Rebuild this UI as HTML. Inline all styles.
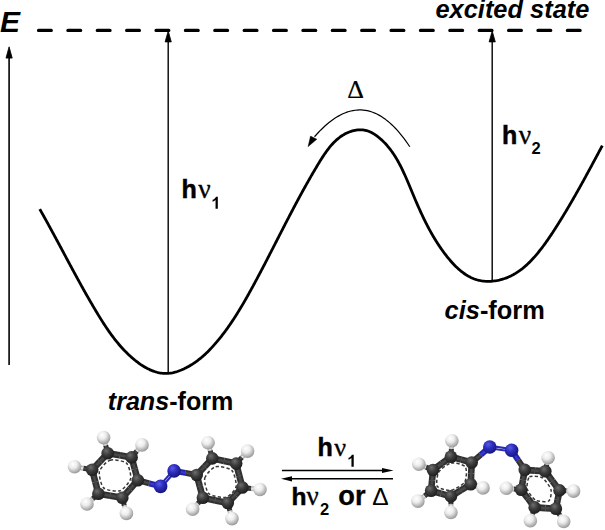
<!DOCTYPE html>
<html><head><meta charset="utf-8"><style>
html,body{margin:0;padding:0;background:#fff;}
svg{display:block;}
text{font-family:"Liberation Sans",sans-serif;}
</style></head><body>
<svg width="605" height="530" viewBox="0 0 605 530">
<defs>
<radialGradient id="gC" cx="0.4" cy="0.35" r="0.65" fx="0.38" fy="0.3"><stop offset="0" stop-color="#6e6e6e"/><stop offset="0.5" stop-color="#3c3c3c"/><stop offset="1" stop-color="#1e1e1e"/></radialGradient>
<radialGradient id="gH" cx="0.4" cy="0.35" r="0.65" fx="0.38" fy="0.3"><stop offset="0" stop-color="#ffffff"/><stop offset="0.45" stop-color="#ececec"/><stop offset="1" stop-color="#9a9a9a"/></radialGradient>
<radialGradient id="gN" cx="0.4" cy="0.35" r="0.65" fx="0.38" fy="0.3"><stop offset="0" stop-color="#5a5ae6"/><stop offset="0.5" stop-color="#2c2cbc"/><stop offset="1" stop-color="#16167c"/></radialGradient>
</defs>
<!-- dashed excited state line -->
<line x1="38.5" y1="30.4" x2="590" y2="30.4" stroke="#000" stroke-width="3.2" stroke-linecap="round" stroke-dasharray="12.8 16.58"/>
<!-- E axis arrow -->
<line x1="9.1" y1="57" x2="9.1" y2="365" stroke="#111" stroke-width="1.7"/>
<path d="M9.1 46.8 L12.2 58.1 L6.0 58.1 Z" fill="#000" stroke="#000" stroke-width="0.8" stroke-linejoin="round"/>
<!-- vertical arrows -->
<line x1="168.2" y1="41" x2="168.2" y2="372.5" stroke="#000" stroke-width="1.4"/>
<path d="M168.2 31 L171.3 41.9 L165.1 41.9 Z" fill="#000" stroke="#000" stroke-width="0.8" stroke-linejoin="round"/>
<line x1="492.2" y1="41" x2="492.2" y2="280" stroke="#000" stroke-width="1.4"/>
<path d="M492.2 31 L495.3 41.9 L489.1 41.9 Z" fill="#000" stroke="#000" stroke-width="0.8" stroke-linejoin="round"/>
<!-- energy curve -->
<path d="M39.75 209.12 L40.41 210.27 L41.06 211.42 L41.71 212.58 L42.36 213.73 L43.01 214.89 L43.66 216.05 L44.31 217.20 L44.95 218.36 L45.59 219.52 L46.24 220.68 L46.88 221.84 L47.52 223.00 L48.16 224.17 L48.80 225.33 L49.43 226.49 L50.07 227.66 L50.70 228.82 L51.34 229.98 L51.97 231.15 L52.60 232.32 L53.24 233.48 L53.87 234.65 L54.50 235.82 L55.13 236.99 L55.76 238.15 L56.39 239.32 L57.01 240.49 L57.64 241.66 L58.27 242.83 L58.90 244.00 L59.52 245.17 L60.15 246.34 L60.78 247.51 L61.40 248.68 L62.03 249.85 L62.65 251.02 L63.28 252.20 L63.90 253.37 L64.53 254.54 L65.16 255.71 L65.78 256.88 L66.41 258.05 L67.04 259.22 L67.66 260.39 L68.29 261.56 L68.92 262.73 L69.54 263.90 L70.17 265.07 L70.80 266.24 L71.43 267.41 L72.06 268.58 L72.69 269.75 L73.32 270.92 L73.95 272.09 L74.59 273.26 L75.22 274.43 L75.86 275.59 L76.49 276.76 L77.13 277.93 L77.76 279.09 L78.40 280.26 L79.04 281.42 L79.68 282.59 L80.32 283.75 L80.97 284.91 L81.61 286.08 L82.26 287.24 L82.90 288.40 L83.55 289.56 L84.20 290.72 L84.85 291.88 L85.50 293.03 L86.16 294.19 L86.81 295.35 L87.47 296.50 L88.13 297.66 L88.79 298.81 L89.45 299.96 L90.12 301.11 L90.78 302.26 L91.45 303.41 L92.12 304.56 L92.79 305.71 L93.47 306.86 L94.14 308.00 L94.82 309.14 L95.50 310.29 L96.18 311.43 L96.87 312.57 L97.56 313.71 L98.25 314.85 L98.94 315.98 L99.64 317.12 L100.34 318.25 L101.04 319.38 L101.75 320.50 L102.46 321.63 L103.17 322.75 L103.89 323.87 L104.62 324.98 L105.35 326.09 L106.08 327.20 L106.82 328.30 L107.57 329.40 L108.32 330.50 L109.08 331.59 L109.85 332.67 L110.62 333.75 L111.40 334.83 L112.19 335.89 L112.99 336.96 L113.79 338.02 L114.60 339.07 L115.42 340.11 L116.25 341.15 L117.09 342.19 L117.93 343.21 L118.79 344.23 L119.65 345.24 L120.53 346.24 L121.41 347.24 L122.31 348.23 L123.22 349.21 L124.13 350.18 L125.06 351.14 L126.00 352.10 L126.95 353.04 L127.92 353.98 L128.89 354.90 L129.88 355.82 L130.88 356.73 L131.89 357.62 L132.92 358.51 L133.96 359.38 L135.01 360.25 L136.08 361.09 L137.15 361.92 L138.24 362.74 L139.34 363.53 L140.45 364.31 L141.57 365.06 L142.70 365.79 L143.84 366.49 L144.99 367.17 L146.15 367.83 L147.32 368.45 L148.50 369.04 L149.69 369.61 L150.89 370.14 L152.09 370.63 L153.31 371.09 L154.53 371.52 L155.76 371.90 L156.99 372.25 L158.23 372.55 L159.48 372.82 L160.74 373.04 L162.00 373.21 L163.26 373.34 L164.54 373.42 L165.81 373.45 L167.09 373.42 L168.38 373.35 L169.67 373.22 L170.96 373.05 L172.26 372.82 L173.55 372.55 L174.85 372.23 L176.14 371.87 L177.43 371.47 L178.71 371.03 L179.99 370.56 L181.26 370.05 L182.52 369.51 L183.77 368.95 L185.01 368.35 L186.23 367.73 L187.44 367.09 L188.64 366.43 L189.82 365.75 L190.98 365.05 L192.13 364.34 L193.26 363.61 L194.37 362.86 L195.47 362.10 L196.55 361.32 L197.62 360.53 L198.68 359.72 L199.72 358.90 L200.75 358.07 L201.76 357.22 L202.77 356.36 L203.76 355.49 L204.74 354.60 L205.70 353.70 L206.66 352.80 L207.60 351.88 L208.54 350.95 L209.46 350.01 L210.38 349.06 L211.29 348.10 L212.18 347.14 L213.07 346.16 L213.96 345.18 L214.83 344.19 L215.70 343.19 L216.55 342.19 L217.41 341.18 L218.25 340.16 L219.09 339.14 L219.93 338.11 L220.75 337.07 L221.57 336.03 L222.39 334.98 L223.19 333.93 L224.00 332.87 L224.79 331.81 L225.58 330.74 L226.37 329.66 L227.14 328.58 L227.92 327.50 L228.69 326.41 L229.45 325.32 L230.20 324.22 L230.96 323.12 L231.70 322.01 L232.45 320.90 L233.18 319.78 L233.91 318.66 L234.64 317.54 L235.37 316.42 L236.08 315.29 L236.80 314.15 L237.51 313.02 L238.21 311.88 L238.92 310.74 L239.61 309.59 L240.31 308.45 L241.00 307.30 L241.68 306.14 L242.37 304.99 L243.04 303.83 L243.72 302.67 L244.39 301.51 L245.06 300.35 L245.73 299.19 L246.39 298.02 L247.05 296.86 L247.71 295.69 L248.36 294.52 L249.02 293.35 L249.67 292.18 L250.31 291.01 L250.96 289.84 L251.60 288.67 L252.24 287.50 L252.88 286.32 L253.52 285.15 L254.15 283.98 L254.78 282.81 L255.41 281.63 L256.04 280.46 L256.67 279.29 L257.30 278.12 L257.92 276.94 L258.54 275.77 L259.16 274.60 L259.78 273.43 L260.40 272.26 L261.02 271.08 L261.63 269.91 L262.25 268.74 L262.86 267.57 L263.47 266.39 L264.09 265.22 L264.70 264.05 L265.31 262.87 L265.91 261.70 L266.52 260.53 L267.13 259.36 L267.73 258.18 L268.34 257.01 L268.94 255.84 L269.55 254.67 L270.15 253.49 L270.75 252.32 L271.35 251.15 L271.95 249.97 L272.56 248.80 L273.16 247.63 L273.76 246.45 L274.36 245.28 L274.96 244.11 L275.56 242.93 L276.16 241.76 L276.76 240.59 L277.36 239.41 L277.96 238.24 L278.56 237.07 L279.16 235.89 L279.76 234.72 L280.36 233.54 L280.96 232.37 L281.57 231.20 L282.17 230.02 L282.77 228.85 L283.37 227.67 L283.98 226.50 L284.58 225.32 L285.19 224.15 L285.79 222.98 L286.40 221.80 L287.01 220.63 L287.62 219.45 L288.23 218.28 L288.84 217.10 L289.45 215.93 L290.06 214.75 L290.68 213.58 L291.29 212.40 L291.91 211.23 L292.53 210.05 L293.15 208.87 L293.77 207.70 L294.39 206.52 L295.01 205.35 L295.64 204.17 L296.26 203.00 L296.89 201.82 L297.52 200.64 L298.15 199.47 L298.79 198.29 L299.42 197.11 L300.06 195.94 L300.70 194.76 L301.34 193.58 L301.99 192.41 L302.63 191.23 L303.28 190.05 L303.93 188.88 L304.58 187.70 L305.24 186.52 L305.89 185.34 L306.55 184.17 L307.22 182.99 L307.88 181.81 L308.55 180.63 L309.22 179.45 L309.89 178.28 L310.57 177.10 L311.24 175.92 L311.92 174.74 L312.61 173.56 L313.30 172.38 L313.99 171.20 L314.68 170.03 L315.37 168.85 L316.07 167.67 L316.78 166.49 L317.48 165.31 L318.19 164.13 L318.90 162.95 L319.62 161.78 L320.34 160.60 L321.07 159.44 L321.81 158.27 L322.55 157.12 L323.30 155.97 L324.06 154.84 L324.83 153.71 L325.61 152.59 L326.39 151.49 L327.19 150.40 L328.00 149.33 L328.82 148.27 L329.65 147.23 L330.50 146.21 L331.36 145.21 L332.24 144.22 L333.13 143.26 L334.03 142.32 L334.95 141.41 L335.89 140.52 L336.85 139.66 L337.82 138.82 L338.81 138.02 L339.83 137.24 L340.86 136.49 L341.91 135.78 L342.98 135.09 L344.08 134.45 L345.19 133.83 L346.33 133.26 L347.49 132.72 L348.68 132.22 L349.89 131.76 L351.13 131.34 L352.39 130.96 L353.66 130.63 L354.96 130.36 L356.26 130.13 L357.57 129.96 L358.88 129.85 L360.20 129.81 L361.51 129.83 L362.81 129.92 L364.11 130.08 L365.38 130.32 L366.64 130.64 L367.89 131.02 L369.11 131.48 L370.32 131.99 L371.51 132.57 L372.68 133.20 L373.83 133.87 L374.96 134.59 L376.07 135.36 L377.16 136.15 L378.22 136.98 L379.27 137.83 L380.30 138.70 L381.30 139.59 L382.28 140.50 L383.25 141.43 L384.19 142.37 L385.11 143.33 L386.01 144.31 L386.90 145.30 L387.76 146.30 L388.61 147.32 L389.44 148.36 L390.26 149.40 L391.05 150.47 L391.84 151.54 L392.60 152.63 L393.35 153.72 L394.09 154.83 L394.81 155.95 L395.52 157.09 L396.21 158.23 L396.90 159.38 L397.57 160.54 L398.23 161.71 L398.87 162.89 L399.51 164.07 L400.14 165.27 L400.75 166.47 L401.36 167.67 L401.96 168.89 L402.55 170.10 L403.13 171.33 L403.70 172.56 L404.27 173.79 L404.83 175.03 L405.39 176.27 L405.94 177.51 L406.48 178.76 L407.02 180.01 L407.55 181.26 L408.08 182.51 L408.61 183.76 L409.14 185.02 L409.66 186.27 L410.18 187.52 L410.70 188.78 L411.22 190.03 L411.74 191.28 L412.26 192.52 L412.78 193.77 L413.30 195.01 L413.82 196.25 L414.34 197.48 L414.86 198.72 L415.39 199.95 L415.91 201.18 L416.44 202.40 L416.97 203.63 L417.50 204.85 L418.04 206.06 L418.57 207.28 L419.11 208.49 L419.66 209.70 L420.20 210.91 L420.75 212.11 L421.31 213.31 L421.86 214.51 L422.43 215.70 L422.99 216.89 L423.56 218.08 L424.14 219.27 L424.71 220.45 L425.30 221.63 L425.89 222.81 L426.48 223.98 L427.08 225.15 L427.69 226.32 L428.30 227.48 L428.92 228.64 L429.55 229.80 L430.18 230.95 L430.82 232.10 L431.46 233.25 L432.11 234.39 L432.77 235.53 L433.44 236.67 L434.12 237.80 L434.80 238.94 L435.49 240.06 L436.19 241.19 L436.90 242.31 L437.62 243.42 L438.34 244.54 L439.08 245.65 L439.82 246.75 L440.58 247.86 L441.34 248.95 L442.11 250.05 L442.90 251.14 L443.69 252.23 L444.50 253.31 L445.31 254.40 L446.14 255.47 L446.98 256.54 L447.83 257.61 L448.69 258.66 L449.56 259.71 L450.44 260.75 L451.34 261.77 L452.24 262.78 L453.16 263.78 L454.09 264.76 L455.04 265.73 L456.00 266.68 L456.97 267.61 L457.95 268.52 L458.95 269.41 L459.95 270.27 L460.98 271.12 L462.01 271.94 L463.07 272.73 L464.13 273.49 L465.21 274.23 L466.30 274.94 L467.41 275.61 L468.53 276.26 L469.67 276.87 L470.82 277.45 L471.99 277.99 L473.17 278.49 L474.37 278.96 L475.58 279.38 L476.81 279.77 L478.06 280.12 L479.32 280.42 L480.60 280.68 L481.89 280.89 L483.19 281.07 L484.51 281.20 L485.84 281.28 L487.18 281.33 L488.52 281.34 L489.87 281.31 L491.22 281.24 L492.57 281.13 L493.93 280.98 L495.28 280.80 L496.63 280.58 L497.98 280.32 L499.32 280.03 L500.65 279.71 L501.97 279.35 L503.29 278.96 L504.59 278.54 L505.87 278.08 L507.15 277.60 L508.40 277.08 L509.64 276.53 L510.86 275.96 L512.06 275.36 L513.24 274.73 L514.40 274.07 L515.55 273.39 L516.68 272.68 L517.80 271.95 L518.90 271.20 L519.98 270.43 L521.05 269.63 L522.10 268.82 L523.14 267.98 L524.16 267.13 L525.17 266.26 L526.17 265.38 L527.15 264.48 L528.12 263.56 L529.08 262.63 L530.02 261.69 L530.95 260.74 L531.87 259.78 L532.78 258.80 L533.68 257.82 L534.56 256.82 L535.44 255.83 L536.31 254.82 L537.16 253.81 L538.01 252.78 L538.85 251.76 L539.67 250.72 L540.50 249.68 L541.31 248.64 L542.11 247.59 L542.91 246.53 L543.70 245.47 L544.48 244.40 L545.26 243.33 L546.03 242.25 L546.79 241.17 L547.55 240.09 L548.30 239.00 L549.05 237.91 L549.79 236.81 L550.53 235.71 L551.27 234.61 L552.00 233.50 L552.73 232.40 L553.45 231.29 L554.18 230.17 L554.90 229.06 L555.62 227.94 L556.33 226.82 L557.05 225.70 L557.76 224.58 L558.47 223.45 L559.17 222.33 L559.88 221.20 L560.58 220.07 L561.28 218.94 L561.97 217.80 L562.67 216.67 L563.36 215.53 L564.05 214.39 L564.74 213.25 L565.43 212.11 L566.12 210.97 L566.80 209.82 L567.48 208.68 L568.16 207.53 L568.84 206.38 L569.51 205.23 L570.19 204.08 L570.86 202.92 L571.53 201.77 L572.20 200.61 L572.87 199.46 L573.53 198.30 L574.20 197.14 L574.86 195.98 L575.52 194.82 L576.18 193.66 L576.84 192.49 L577.49 191.33 L578.15 190.16 L578.80 189.00 L579.45 187.83 L580.11 186.66 L580.76 185.50 L581.40 184.33 L582.05 183.16 L582.70 181.99 L583.34 180.82 L583.99 179.64 L584.63 178.47 L585.27 177.30 L585.91 176.13 L586.55 174.95 L587.19 173.78 L587.83 172.61 L588.47 171.43 L589.10 170.26 L589.74 169.08 L590.37 167.91 L591.01 166.73 L591.64 165.56 L592.28 164.38 L592.91 163.21 L593.54 162.03 L594.17 160.85 L594.80 159.68 L595.43 158.50 L596.06 157.33 L596.69 156.15 L597.32 154.98 L597.94 153.80 L598.57 152.63 L599.20 151.45 L599.83 150.28 L600.45 149.11 L601.08 147.93 L601.71 146.76 L602.33 145.59" fill="none" stroke="#000" stroke-width="2.8" stroke-linecap="butt" stroke-linejoin="round"/>
<!-- thermal arc arrow -->
<path d="M409.80 146.77 L407.77 143.76 L405.74 140.88 L403.72 138.14 L401.69 135.53 L399.66 133.06 L397.63 130.71 L395.61 128.50 L393.58 126.41 L391.55 124.45 L389.52 122.62 L387.50 120.92 L385.47 119.35 L383.44 117.90 L381.41 116.57 L379.39 115.37 L377.36 114.29 L375.33 113.33 L373.30 112.49 L371.27 111.77 L369.25 111.17 L367.22 110.69 L365.19 110.33 L363.16 110.08 L361.14 109.95 L359.11 109.93 L357.08 110.03 L355.05 110.23 L353.03 110.56 L351.00 110.99 L348.97 111.53 L346.94 112.18 L344.91 112.94 L342.89 113.81 L340.86 114.78 L338.83 115.86 L336.80 117.05 L334.78 118.34 L332.75 119.73 L330.72 121.23 L328.69 122.82 L326.67 124.52 L324.64 126.31 L322.61 128.21 L320.58 130.20 L318.56 132.29 L316.53 134.48 L314.50 136.76" fill="none" stroke="#000" stroke-width="1.2" stroke-linejoin="round"/>
<path d="M308.0 146.7 L310.5 136.1 L316.9 139.2 Z" fill="#000" stroke="#000" stroke-width="0.4" stroke-linejoin="round"/>
<!-- text -->
<text x="0" y="32.3" font-size="30" font-weight="bold" font-style="italic">E</text>
<text x="435.5" y="18.1" font-size="25.4" font-weight="bold" font-style="italic">excited state</text>
<text x="347.2" y="97.6" font-size="26" style="font-family:'Liberation Serif',serif" stroke="#000" stroke-width="0.2">&#916;</text>
<text x="181.4" y="197.8" font-size="25" font-weight="bold" stroke="#000" stroke-width="0.5">h</text>
<text x="198.3" y="197.8" font-size="27.5" style="font-family:'Liberation Serif',serif" stroke="#000" stroke-width="0.35">&#957;</text>
<path transform="translate(211.45,208.70) scale(0.00811,-0.00811)" d="M786 0L505 0L505 1059Q351 915 142 846L142 1101Q252 1137 381 1238Q510 1339 558 1466L786 1466Z"/>
<text x="502.1" y="144" font-size="25" font-weight="bold" stroke="#000" stroke-width="0.5">h</text>
<text x="518.8" y="144" font-size="27.5" style="font-family:'Liberation Serif',serif" stroke="#000" stroke-width="0.35">&#957;</text>
<text x="531.5" y="154.3" font-size="16.5" font-weight="bold">2</text>
<text x="107.8" y="410.4" font-size="25.1" font-weight="bold"><tspan font-style="italic">trans</tspan>-form</text>
<text x="444.6" y="318.6" font-size="25.4" font-weight="bold"><tspan font-style="italic">cis</tspan>-form</text>
<!-- bottom -->
<text x="317.4" y="456" font-size="25" font-weight="bold" stroke="#000" stroke-width="0.5">h</text>
<text x="334.2" y="456" font-size="26.2" style="font-family:'Liberation Serif',serif" stroke="#000" stroke-width="0.35">&#957;</text>
<path transform="translate(347.35,466.70) scale(0.00811,-0.00811)" d="M786 0L505 0L505 1059Q351 915 142 846L142 1101Q252 1137 381 1238Q510 1339 558 1466L786 1466Z"/>
<line x1="281.9" y1="470.5" x2="385" y2="470.5" stroke="#000" stroke-width="1.4"/>
<path d="M393.6 470.5 L382 467.9 L382 473.1 Z" fill="#000"/>
<line x1="290" y1="478.8" x2="393" y2="478.8" stroke="#000" stroke-width="1.4"/>
<path d="M281 478.8 L292 476.2 L292 481.4 Z" fill="#000"/>
<text x="291.5" y="504.8" font-size="24.5" font-weight="bold" stroke="#000" stroke-width="0.5">h</text>
<text x="306.5" y="504.8" font-size="27" style="font-family:'Liberation Serif',serif" stroke="#000" stroke-width="0.35">&#957;</text>
<text x="320" y="514.6" font-size="16.5" font-weight="bold">2</text>
<text x="338.3" y="505.3" font-size="27.2" font-weight="bold" stroke="#000" stroke-width="0.3">or</text>
<text x="372.3" y="504.8" font-size="24.5">&#916;</text>
<!-- molecules -->
<g>
<line x1="107.7" y1="453.2" x2="119.7" y2="455.3" stroke="#303030" stroke-width="6.6"/>
<line x1="119.7" y1="455.3" x2="131.6" y2="457.4" stroke="#303030" stroke-width="6.6"/>
<line x1="107.7" y1="453.2" x2="119.7" y2="455.3" stroke="#474747" stroke-width="2.6"/>
<line x1="119.7" y1="455.3" x2="131.6" y2="457.4" stroke="#474747" stroke-width="2.6"/>
<line x1="131.6" y1="457.4" x2="134.7" y2="468.8" stroke="#303030" stroke-width="6.6"/>
<line x1="134.7" y1="468.8" x2="137.8" y2="480.2" stroke="#303030" stroke-width="6.6"/>
<line x1="131.6" y1="457.4" x2="134.7" y2="468.8" stroke="#474747" stroke-width="2.6"/>
<line x1="134.7" y1="468.8" x2="137.8" y2="480.2" stroke="#474747" stroke-width="2.6"/>
<line x1="137.8" y1="480.2" x2="130.1" y2="489.0" stroke="#303030" stroke-width="6.6"/>
<line x1="130.1" y1="489.0" x2="122.3" y2="497.8" stroke="#303030" stroke-width="6.6"/>
<line x1="137.8" y1="480.2" x2="130.1" y2="489.0" stroke="#474747" stroke-width="2.6"/>
<line x1="130.1" y1="489.0" x2="122.3" y2="497.8" stroke="#474747" stroke-width="2.6"/>
<line x1="122.3" y1="497.8" x2="110.3" y2="495.8" stroke="#303030" stroke-width="6.6"/>
<line x1="110.3" y1="495.8" x2="98.4" y2="493.7" stroke="#303030" stroke-width="6.6"/>
<line x1="122.3" y1="497.8" x2="110.3" y2="495.8" stroke="#474747" stroke-width="2.6"/>
<line x1="110.3" y1="495.8" x2="98.4" y2="493.7" stroke="#474747" stroke-width="2.6"/>
<line x1="98.4" y1="493.7" x2="95.3" y2="481.8" stroke="#303030" stroke-width="6.6"/>
<line x1="95.3" y1="481.8" x2="92.2" y2="469.8" stroke="#303030" stroke-width="6.6"/>
<line x1="98.4" y1="493.7" x2="95.3" y2="481.8" stroke="#474747" stroke-width="2.6"/>
<line x1="95.3" y1="481.8" x2="92.2" y2="469.8" stroke="#474747" stroke-width="2.6"/>
<line x1="92.2" y1="469.8" x2="100.0" y2="461.5" stroke="#303030" stroke-width="6.6"/>
<line x1="100.0" y1="461.5" x2="107.7" y2="453.2" stroke="#303030" stroke-width="6.6"/>
<line x1="92.2" y1="469.8" x2="100.0" y2="461.5" stroke="#474747" stroke-width="2.6"/>
<line x1="100.0" y1="461.5" x2="107.7" y2="453.2" stroke="#474747" stroke-width="2.6"/>
<line x1="107.7" y1="453.2" x2="105.7" y2="445.4" stroke="#2e2e2e" stroke-width="5.0"/>
<line x1="105.7" y1="445.4" x2="103.6" y2="437.6" stroke="#b8b8b8" stroke-width="5.0"/>
<line x1="107.7" y1="453.2" x2="105.7" y2="445.4" stroke="#4a4a4a" stroke-width="2.0"/>
<line x1="105.7" y1="445.4" x2="103.6" y2="437.6" stroke="#e8e8e8" stroke-width="2.0"/>
<line x1="131.6" y1="457.4" x2="136.8" y2="451.1" stroke="#2e2e2e" stroke-width="5.0"/>
<line x1="136.8" y1="451.1" x2="142.0" y2="444.9" stroke="#b8b8b8" stroke-width="5.0"/>
<line x1="131.6" y1="457.4" x2="136.8" y2="451.1" stroke="#4a4a4a" stroke-width="2.0"/>
<line x1="136.8" y1="451.1" x2="142.0" y2="444.9" stroke="#e8e8e8" stroke-width="2.0"/>
<line x1="122.3" y1="497.8" x2="124.3" y2="505.6" stroke="#2e2e2e" stroke-width="5.0"/>
<line x1="124.3" y1="505.6" x2="126.4" y2="513.4" stroke="#b8b8b8" stroke-width="5.0"/>
<line x1="122.3" y1="497.8" x2="124.3" y2="505.6" stroke="#4a4a4a" stroke-width="2.0"/>
<line x1="124.3" y1="505.6" x2="126.4" y2="513.4" stroke="#e8e8e8" stroke-width="2.0"/>
<line x1="98.4" y1="493.7" x2="92.7" y2="498.9" stroke="#2e2e2e" stroke-width="5.0"/>
<line x1="92.7" y1="498.9" x2="87.0" y2="504.0" stroke="#b8b8b8" stroke-width="5.0"/>
<line x1="98.4" y1="493.7" x2="92.7" y2="498.9" stroke="#4a4a4a" stroke-width="2.0"/>
<line x1="92.7" y1="498.9" x2="87.0" y2="504.0" stroke="#e8e8e8" stroke-width="2.0"/>
<line x1="92.2" y1="469.8" x2="83.3" y2="468.2" stroke="#2e2e2e" stroke-width="5.0"/>
<line x1="83.3" y1="468.2" x2="74.5" y2="466.7" stroke="#b8b8b8" stroke-width="5.0"/>
<line x1="92.2" y1="469.8" x2="83.3" y2="468.2" stroke="#4a4a4a" stroke-width="2.0"/>
<line x1="83.3" y1="468.2" x2="74.5" y2="466.7" stroke="#e8e8e8" stroke-width="2.0"/>
<line x1="196.7" y1="475.0" x2="204.5" y2="466.7" stroke="#303030" stroke-width="6.6"/>
<line x1="204.5" y1="466.7" x2="212.3" y2="458.4" stroke="#303030" stroke-width="6.6"/>
<line x1="196.7" y1="475.0" x2="204.5" y2="466.7" stroke="#474747" stroke-width="2.6"/>
<line x1="204.5" y1="466.7" x2="212.3" y2="458.4" stroke="#474747" stroke-width="2.6"/>
<line x1="212.3" y1="458.4" x2="224.2" y2="461.0" stroke="#303030" stroke-width="6.6"/>
<line x1="224.2" y1="461.0" x2="236.2" y2="463.6" stroke="#303030" stroke-width="6.6"/>
<line x1="212.3" y1="458.4" x2="224.2" y2="461.0" stroke="#474747" stroke-width="2.6"/>
<line x1="224.2" y1="461.0" x2="236.2" y2="463.6" stroke="#474747" stroke-width="2.6"/>
<line x1="236.2" y1="463.6" x2="239.3" y2="475.6" stroke="#303030" stroke-width="6.6"/>
<line x1="239.3" y1="475.6" x2="242.4" y2="487.5" stroke="#303030" stroke-width="6.6"/>
<line x1="236.2" y1="463.6" x2="239.3" y2="475.6" stroke="#474747" stroke-width="2.6"/>
<line x1="239.3" y1="475.6" x2="242.4" y2="487.5" stroke="#474747" stroke-width="2.6"/>
<line x1="242.4" y1="487.5" x2="235.1" y2="495.2" stroke="#303030" stroke-width="6.6"/>
<line x1="235.1" y1="495.2" x2="227.8" y2="503.0" stroke="#303030" stroke-width="6.6"/>
<line x1="242.4" y1="487.5" x2="235.1" y2="495.2" stroke="#474747" stroke-width="2.6"/>
<line x1="235.1" y1="495.2" x2="227.8" y2="503.0" stroke="#474747" stroke-width="2.6"/>
<line x1="227.8" y1="503.0" x2="215.4" y2="500.4" stroke="#303030" stroke-width="6.6"/>
<line x1="215.4" y1="500.4" x2="202.9" y2="497.8" stroke="#303030" stroke-width="6.6"/>
<line x1="227.8" y1="503.0" x2="215.4" y2="500.4" stroke="#474747" stroke-width="2.6"/>
<line x1="215.4" y1="500.4" x2="202.9" y2="497.8" stroke="#474747" stroke-width="2.6"/>
<line x1="202.9" y1="497.8" x2="199.8" y2="486.4" stroke="#303030" stroke-width="6.6"/>
<line x1="199.8" y1="486.4" x2="196.7" y2="475.0" stroke="#303030" stroke-width="6.6"/>
<line x1="202.9" y1="497.8" x2="199.8" y2="486.4" stroke="#474747" stroke-width="2.6"/>
<line x1="199.8" y1="486.4" x2="196.7" y2="475.0" stroke="#474747" stroke-width="2.6"/>
<line x1="212.3" y1="458.4" x2="210.2" y2="450.6" stroke="#2e2e2e" stroke-width="5.0"/>
<line x1="210.2" y1="450.6" x2="208.1" y2="442.8" stroke="#b8b8b8" stroke-width="5.0"/>
<line x1="212.3" y1="458.4" x2="210.2" y2="450.6" stroke="#4a4a4a" stroke-width="2.0"/>
<line x1="210.2" y1="450.6" x2="208.1" y2="442.8" stroke="#e8e8e8" stroke-width="2.0"/>
<line x1="236.2" y1="463.6" x2="241.9" y2="457.4" stroke="#2e2e2e" stroke-width="5.0"/>
<line x1="241.9" y1="457.4" x2="247.6" y2="451.1" stroke="#b8b8b8" stroke-width="5.0"/>
<line x1="236.2" y1="463.6" x2="241.9" y2="457.4" stroke="#4a4a4a" stroke-width="2.0"/>
<line x1="241.9" y1="457.4" x2="247.6" y2="451.1" stroke="#e8e8e8" stroke-width="2.0"/>
<line x1="242.4" y1="487.5" x2="251.2" y2="488.5" stroke="#2e2e2e" stroke-width="5.0"/>
<line x1="251.2" y1="488.5" x2="260.0" y2="489.5" stroke="#b8b8b8" stroke-width="5.0"/>
<line x1="242.4" y1="487.5" x2="251.2" y2="488.5" stroke="#4a4a4a" stroke-width="2.0"/>
<line x1="251.2" y1="488.5" x2="260.0" y2="489.5" stroke="#e8e8e8" stroke-width="2.0"/>
<line x1="227.8" y1="503.0" x2="229.9" y2="510.8" stroke="#2e2e2e" stroke-width="5.0"/>
<line x1="229.9" y1="510.8" x2="232.0" y2="518.6" stroke="#b8b8b8" stroke-width="5.0"/>
<line x1="227.8" y1="503.0" x2="229.9" y2="510.8" stroke="#4a4a4a" stroke-width="2.0"/>
<line x1="229.9" y1="510.8" x2="232.0" y2="518.6" stroke="#e8e8e8" stroke-width="2.0"/>
<line x1="202.9" y1="497.8" x2="197.8" y2="503.6" stroke="#2e2e2e" stroke-width="5.0"/>
<line x1="197.8" y1="503.6" x2="192.6" y2="509.3" stroke="#b8b8b8" stroke-width="5.0"/>
<line x1="202.9" y1="497.8" x2="197.8" y2="503.6" stroke="#4a4a4a" stroke-width="2.0"/>
<line x1="197.8" y1="503.6" x2="192.6" y2="509.3" stroke="#e8e8e8" stroke-width="2.0"/>
<line x1="137.8" y1="480.2" x2="149.2" y2="483.3" stroke="#303030" stroke-width="6.0"/>
<line x1="149.2" y1="483.3" x2="160.6" y2="486.4" stroke="#2222a8" stroke-width="6.0"/>
<line x1="137.8" y1="480.2" x2="149.2" y2="483.3" stroke="#474747" stroke-width="2.4"/>
<line x1="149.2" y1="483.3" x2="160.6" y2="486.4" stroke="#3838d0" stroke-width="2.4"/>
<line x1="174.1" y1="470.9" x2="185.4" y2="472.9" stroke="#2222a8" stroke-width="6.0"/>
<line x1="185.4" y1="472.9" x2="196.7" y2="475.0" stroke="#303030" stroke-width="6.0"/>
<line x1="174.1" y1="470.9" x2="185.4" y2="472.9" stroke="#3838d0" stroke-width="2.4"/>
<line x1="185.4" y1="472.9" x2="196.7" y2="475.0" stroke="#474747" stroke-width="2.4"/>
<line x1="161.5" y1="487.2" x2="175.0" y2="471.7" stroke="#2a2ab4" stroke-width="2.1"/>
<line x1="159.7" y1="485.6" x2="173.2" y2="470.1" stroke="#2a2ab4" stroke-width="2.1"/>
<path d="M110.00 460.18 C113.24 459.16 123.90 460.83 126.37 463.05 C128.85 465.27 131.38 475.35 130.62 478.67 C129.85 481.99 123.24 489.62 120.00 490.73 C116.76 491.84 106.10 490.22 103.63 487.92 C101.15 485.62 98.62 474.88 99.38 471.55 C100.15 468.22 106.76 461.20 110.00 460.18 Z" fill="none" stroke="#383838" stroke-width="1.50" stroke-dasharray="3.2 2.2"/>
<path d="M204.75 478.15 C205.52 474.91 212.19 467.72 215.44 466.78 C218.68 465.85 229.33 467.95 231.81 470.34 C234.28 472.74 236.75 483.48 236.05 486.72 C235.36 489.95 229.30 496.49 226.05 497.33 C222.81 498.18 211.55 496.07 209.00 493.77 C206.44 491.47 203.98 481.39 204.75 478.15 Z" fill="none" stroke="#383838" stroke-width="1.50" stroke-dasharray="3.2 2.2"/>
<circle cx="107.7" cy="453.2" r="6.3" fill="url(#gC)"/>
<circle cx="131.6" cy="457.4" r="6.3" fill="url(#gC)"/>
<circle cx="137.8" cy="480.2" r="6.3" fill="url(#gC)"/>
<circle cx="122.3" cy="497.8" r="6.3" fill="url(#gC)"/>
<circle cx="98.4" cy="493.7" r="6.3" fill="url(#gC)"/>
<circle cx="92.2" cy="469.8" r="6.3" fill="url(#gC)"/>
<circle cx="103.6" cy="437.6" r="6.8" fill="url(#gH)"/>
<circle cx="142.0" cy="444.9" r="6.8" fill="url(#gH)"/>
<circle cx="126.4" cy="513.4" r="6.8" fill="url(#gH)"/>
<circle cx="87.0" cy="504.0" r="6.8" fill="url(#gH)"/>
<circle cx="74.5" cy="466.7" r="6.8" fill="url(#gH)"/>
<circle cx="196.7" cy="475.0" r="6.3" fill="url(#gC)"/>
<circle cx="212.3" cy="458.4" r="6.3" fill="url(#gC)"/>
<circle cx="236.2" cy="463.6" r="6.3" fill="url(#gC)"/>
<circle cx="242.4" cy="487.5" r="6.3" fill="url(#gC)"/>
<circle cx="227.8" cy="503.0" r="6.3" fill="url(#gC)"/>
<circle cx="202.9" cy="497.8" r="6.3" fill="url(#gC)"/>
<circle cx="208.1" cy="442.8" r="6.8" fill="url(#gH)"/>
<circle cx="247.6" cy="451.1" r="6.8" fill="url(#gH)"/>
<circle cx="260.0" cy="489.5" r="6.8" fill="url(#gH)"/>
<circle cx="232.0" cy="518.6" r="6.8" fill="url(#gH)"/>
<circle cx="192.6" cy="509.3" r="6.8" fill="url(#gH)"/>
<circle cx="160.6" cy="486.4" r="6.8" fill="url(#gN)"/>
<circle cx="174.1" cy="470.9" r="6.8" fill="url(#gN)"/>
</g>
<g>
<line x1="450.9" y1="456.8" x2="461.3" y2="459.6" stroke="#303030" stroke-width="6.6"/>
<line x1="461.3" y1="459.6" x2="471.7" y2="462.5" stroke="#303030" stroke-width="6.6"/>
<line x1="450.9" y1="456.8" x2="461.3" y2="459.6" stroke="#474747" stroke-width="2.6"/>
<line x1="461.3" y1="459.6" x2="471.7" y2="462.5" stroke="#474747" stroke-width="2.6"/>
<line x1="471.7" y1="462.5" x2="471.2" y2="473.4" stroke="#303030" stroke-width="6.6"/>
<line x1="471.2" y1="473.4" x2="470.8" y2="484.2" stroke="#303030" stroke-width="6.6"/>
<line x1="471.7" y1="462.5" x2="471.2" y2="473.4" stroke="#474747" stroke-width="2.6"/>
<line x1="471.2" y1="473.4" x2="470.8" y2="484.2" stroke="#474747" stroke-width="2.6"/>
<line x1="470.8" y1="484.2" x2="460.9" y2="490.3" stroke="#303030" stroke-width="6.6"/>
<line x1="460.9" y1="490.3" x2="450.9" y2="496.4" stroke="#303030" stroke-width="6.6"/>
<line x1="470.8" y1="484.2" x2="460.9" y2="490.3" stroke="#474747" stroke-width="2.6"/>
<line x1="460.9" y1="490.3" x2="450.9" y2="496.4" stroke="#474747" stroke-width="2.6"/>
<line x1="450.9" y1="496.4" x2="441.0" y2="493.6" stroke="#303030" stroke-width="6.6"/>
<line x1="441.0" y1="493.6" x2="431.1" y2="490.8" stroke="#303030" stroke-width="6.6"/>
<line x1="450.9" y1="496.4" x2="441.0" y2="493.6" stroke="#474747" stroke-width="2.6"/>
<line x1="441.0" y1="493.6" x2="431.1" y2="490.8" stroke="#474747" stroke-width="2.6"/>
<line x1="431.1" y1="490.8" x2="432.1" y2="480.4" stroke="#303030" stroke-width="6.6"/>
<line x1="432.1" y1="480.4" x2="433.0" y2="470.0" stroke="#303030" stroke-width="6.6"/>
<line x1="431.1" y1="490.8" x2="432.1" y2="480.4" stroke="#474747" stroke-width="2.6"/>
<line x1="432.1" y1="480.4" x2="433.0" y2="470.0" stroke="#474747" stroke-width="2.6"/>
<line x1="433.0" y1="470.0" x2="441.9" y2="463.4" stroke="#303030" stroke-width="6.6"/>
<line x1="441.9" y1="463.4" x2="450.9" y2="456.8" stroke="#303030" stroke-width="6.6"/>
<line x1="433.0" y1="470.0" x2="441.9" y2="463.4" stroke="#474747" stroke-width="2.6"/>
<line x1="441.9" y1="463.4" x2="450.9" y2="456.8" stroke="#474747" stroke-width="2.6"/>
<line x1="450.9" y1="456.8" x2="451.4" y2="448.8" stroke="#2e2e2e" stroke-width="5.0"/>
<line x1="451.4" y1="448.8" x2="451.9" y2="440.8" stroke="#b8b8b8" stroke-width="5.0"/>
<line x1="450.9" y1="456.8" x2="451.4" y2="448.8" stroke="#4a4a4a" stroke-width="2.0"/>
<line x1="451.4" y1="448.8" x2="451.9" y2="440.8" stroke="#e8e8e8" stroke-width="2.0"/>
<line x1="470.8" y1="484.2" x2="476.9" y2="486.0" stroke="#2e2e2e" stroke-width="5.0"/>
<line x1="476.9" y1="486.0" x2="483.0" y2="487.9" stroke="#b8b8b8" stroke-width="5.0"/>
<line x1="470.8" y1="484.2" x2="476.9" y2="486.0" stroke="#4a4a4a" stroke-width="2.0"/>
<line x1="476.9" y1="486.0" x2="483.0" y2="487.9" stroke="#e8e8e8" stroke-width="2.0"/>
<line x1="450.9" y1="496.4" x2="450.9" y2="504.4" stroke="#2e2e2e" stroke-width="5.0"/>
<line x1="450.9" y1="504.4" x2="450.9" y2="512.5" stroke="#b8b8b8" stroke-width="5.0"/>
<line x1="450.9" y1="496.4" x2="450.9" y2="504.4" stroke="#4a4a4a" stroke-width="2.0"/>
<line x1="450.9" y1="504.4" x2="450.9" y2="512.5" stroke="#e8e8e8" stroke-width="2.0"/>
<line x1="431.1" y1="490.8" x2="424.5" y2="496.0" stroke="#2e2e2e" stroke-width="5.0"/>
<line x1="424.5" y1="496.0" x2="417.9" y2="501.1" stroke="#b8b8b8" stroke-width="5.0"/>
<line x1="431.1" y1="490.8" x2="424.5" y2="496.0" stroke="#4a4a4a" stroke-width="2.0"/>
<line x1="424.5" y1="496.0" x2="417.9" y2="501.1" stroke="#e8e8e8" stroke-width="2.0"/>
<line x1="433.0" y1="470.0" x2="425.9" y2="467.1" stroke="#2e2e2e" stroke-width="5.0"/>
<line x1="425.9" y1="467.1" x2="418.9" y2="464.3" stroke="#b8b8b8" stroke-width="5.0"/>
<line x1="433.0" y1="470.0" x2="425.9" y2="467.1" stroke="#4a4a4a" stroke-width="2.0"/>
<line x1="425.9" y1="467.1" x2="418.9" y2="464.3" stroke="#e8e8e8" stroke-width="2.0"/>
<line x1="524.8" y1="469.9" x2="535.0" y2="470.6" stroke="#303030" stroke-width="6.6"/>
<line x1="535.0" y1="470.6" x2="545.3" y2="471.3" stroke="#303030" stroke-width="6.6"/>
<line x1="524.8" y1="469.9" x2="535.0" y2="470.6" stroke="#474747" stroke-width="2.6"/>
<line x1="535.0" y1="470.6" x2="545.3" y2="471.3" stroke="#474747" stroke-width="2.6"/>
<line x1="545.3" y1="471.3" x2="552.4" y2="480.9" stroke="#303030" stroke-width="6.6"/>
<line x1="552.4" y1="480.9" x2="559.5" y2="490.4" stroke="#303030" stroke-width="6.6"/>
<line x1="545.3" y1="471.3" x2="552.4" y2="480.9" stroke="#474747" stroke-width="2.6"/>
<line x1="552.4" y1="480.9" x2="559.5" y2="490.4" stroke="#474747" stroke-width="2.6"/>
<line x1="559.5" y1="490.4" x2="557.7" y2="499.6" stroke="#303030" stroke-width="6.6"/>
<line x1="557.7" y1="499.6" x2="555.9" y2="508.8" stroke="#303030" stroke-width="6.6"/>
<line x1="559.5" y1="490.4" x2="557.7" y2="499.6" stroke="#474747" stroke-width="2.6"/>
<line x1="557.7" y1="499.6" x2="555.9" y2="508.8" stroke="#474747" stroke-width="2.6"/>
<line x1="555.9" y1="508.8" x2="545.3" y2="508.1" stroke="#303030" stroke-width="6.6"/>
<line x1="545.3" y1="508.1" x2="534.7" y2="507.4" stroke="#303030" stroke-width="6.6"/>
<line x1="555.9" y1="508.8" x2="545.3" y2="508.1" stroke="#474747" stroke-width="2.6"/>
<line x1="545.3" y1="508.1" x2="534.7" y2="507.4" stroke="#474747" stroke-width="2.6"/>
<line x1="534.7" y1="507.4" x2="528.0" y2="498.5" stroke="#303030" stroke-width="6.6"/>
<line x1="528.0" y1="498.5" x2="521.2" y2="489.7" stroke="#303030" stroke-width="6.6"/>
<line x1="534.7" y1="507.4" x2="528.0" y2="498.5" stroke="#474747" stroke-width="2.6"/>
<line x1="528.0" y1="498.5" x2="521.2" y2="489.7" stroke="#474747" stroke-width="2.6"/>
<line x1="521.2" y1="489.7" x2="523.0" y2="479.8" stroke="#303030" stroke-width="6.6"/>
<line x1="523.0" y1="479.8" x2="524.8" y2="469.9" stroke="#303030" stroke-width="6.6"/>
<line x1="521.2" y1="489.7" x2="523.0" y2="479.8" stroke="#474747" stroke-width="2.6"/>
<line x1="523.0" y1="479.8" x2="524.8" y2="469.9" stroke="#474747" stroke-width="2.6"/>
<line x1="545.3" y1="471.3" x2="546.7" y2="464.6" stroke="#2e2e2e" stroke-width="5.0"/>
<line x1="546.7" y1="464.6" x2="548.1" y2="457.8" stroke="#b8b8b8" stroke-width="5.0"/>
<line x1="545.3" y1="471.3" x2="546.7" y2="464.6" stroke="#4a4a4a" stroke-width="2.0"/>
<line x1="546.7" y1="464.6" x2="548.1" y2="457.8" stroke="#e8e8e8" stroke-width="2.0"/>
<line x1="559.5" y1="490.4" x2="566.5" y2="490.8" stroke="#2e2e2e" stroke-width="5.0"/>
<line x1="566.5" y1="490.8" x2="573.6" y2="491.1" stroke="#b8b8b8" stroke-width="5.0"/>
<line x1="559.5" y1="490.4" x2="566.5" y2="490.8" stroke="#4a4a4a" stroke-width="2.0"/>
<line x1="566.5" y1="490.8" x2="573.6" y2="491.1" stroke="#e8e8e8" stroke-width="2.0"/>
<line x1="555.9" y1="508.8" x2="559.8" y2="515.1" stroke="#2e2e2e" stroke-width="5.0"/>
<line x1="559.8" y1="515.1" x2="563.7" y2="521.5" stroke="#b8b8b8" stroke-width="5.0"/>
<line x1="555.9" y1="508.8" x2="559.8" y2="515.1" stroke="#4a4a4a" stroke-width="2.0"/>
<line x1="559.8" y1="515.1" x2="563.7" y2="521.5" stroke="#e8e8e8" stroke-width="2.0"/>
<line x1="534.7" y1="507.4" x2="532.5" y2="514.1" stroke="#2e2e2e" stroke-width="5.0"/>
<line x1="532.5" y1="514.1" x2="530.4" y2="520.8" stroke="#b8b8b8" stroke-width="5.0"/>
<line x1="534.7" y1="507.4" x2="532.5" y2="514.1" stroke="#4a4a4a" stroke-width="2.0"/>
<line x1="532.5" y1="514.1" x2="530.4" y2="520.8" stroke="#e8e8e8" stroke-width="2.0"/>
<line x1="521.2" y1="489.7" x2="513.8" y2="489.0" stroke="#2e2e2e" stroke-width="5.0"/>
<line x1="513.8" y1="489.0" x2="506.4" y2="488.3" stroke="#b8b8b8" stroke-width="5.0"/>
<line x1="521.2" y1="489.7" x2="513.8" y2="489.0" stroke="#4a4a4a" stroke-width="2.0"/>
<line x1="513.8" y1="489.0" x2="506.4" y2="488.3" stroke="#e8e8e8" stroke-width="2.0"/>
<line x1="471.7" y1="462.5" x2="480.8" y2="454.8" stroke="#303030" stroke-width="6.0"/>
<line x1="480.8" y1="454.8" x2="489.8" y2="447.0" stroke="#2222a8" stroke-width="6.0"/>
<line x1="471.7" y1="462.5" x2="480.8" y2="454.8" stroke="#474747" stroke-width="2.4"/>
<line x1="480.8" y1="454.8" x2="489.8" y2="447.0" stroke="#3838d0" stroke-width="2.4"/>
<line x1="511.6" y1="450.3" x2="518.2" y2="460.1" stroke="#2222a8" stroke-width="6.0"/>
<line x1="518.2" y1="460.1" x2="524.8" y2="469.9" stroke="#303030" stroke-width="6.0"/>
<line x1="511.6" y1="450.3" x2="518.2" y2="460.1" stroke="#3838d0" stroke-width="2.4"/>
<line x1="518.2" y1="460.1" x2="524.8" y2="469.9" stroke="#474747" stroke-width="2.4"/>
<line x1="489.6" y1="448.2" x2="511.4" y2="451.5" stroke="#2a2ab4" stroke-width="2.1"/>
<line x1="490.0" y1="445.8" x2="511.8" y2="449.1" stroke="#2a2ab4" stroke-width="2.1"/>
<path d="M451.06 462.99 C454.26 462.37 463.76 464.66 465.41 466.93 C467.05 469.20 466.51 479.09 464.79 481.90 C463.06 484.71 454.34 489.77 451.06 490.32 C447.77 490.87 438.88 488.64 437.39 486.45 C435.91 484.27 437.06 474.92 438.70 472.10 C440.34 469.29 447.85 463.62 451.06 462.99 Z" fill="none" stroke="#383838" stroke-width="1.50" stroke-dasharray="3.2 2.2"/>
<path d="M529.46 476.88 C531.26 475.51 539.59 476.22 542.17 477.75 C544.76 479.27 550.19 486.80 550.98 489.59 C551.77 492.38 550.59 499.73 548.75 501.00 C546.90 502.26 538.18 501.55 535.60 500.13 C533.02 498.71 527.97 491.95 527.23 489.16 C526.50 486.37 527.67 478.25 529.46 476.88 Z" fill="none" stroke="#383838" stroke-width="1.50" stroke-dasharray="3.2 2.2"/>
<circle cx="450.9" cy="456.8" r="6.3" fill="url(#gC)"/>
<circle cx="471.7" cy="462.5" r="6.3" fill="url(#gC)"/>
<circle cx="470.8" cy="484.2" r="6.3" fill="url(#gC)"/>
<circle cx="450.9" cy="496.4" r="6.3" fill="url(#gC)"/>
<circle cx="431.1" cy="490.8" r="6.3" fill="url(#gC)"/>
<circle cx="433.0" cy="470.0" r="6.3" fill="url(#gC)"/>
<circle cx="451.9" cy="440.8" r="6.8" fill="url(#gH)"/>
<circle cx="483.0" cy="487.9" r="6.8" fill="url(#gH)"/>
<circle cx="450.9" cy="512.5" r="6.8" fill="url(#gH)"/>
<circle cx="417.9" cy="501.1" r="6.8" fill="url(#gH)"/>
<circle cx="418.9" cy="464.3" r="6.8" fill="url(#gH)"/>
<circle cx="524.8" cy="469.9" r="6.3" fill="url(#gC)"/>
<circle cx="545.3" cy="471.3" r="6.3" fill="url(#gC)"/>
<circle cx="559.5" cy="490.4" r="6.3" fill="url(#gC)"/>
<circle cx="555.9" cy="508.8" r="6.3" fill="url(#gC)"/>
<circle cx="534.7" cy="507.4" r="6.3" fill="url(#gC)"/>
<circle cx="521.2" cy="489.7" r="6.3" fill="url(#gC)"/>
<circle cx="548.1" cy="457.8" r="6.8" fill="url(#gH)"/>
<circle cx="573.6" cy="491.1" r="6.8" fill="url(#gH)"/>
<circle cx="563.7" cy="521.5" r="6.8" fill="url(#gH)"/>
<circle cx="530.4" cy="520.8" r="6.8" fill="url(#gH)"/>
<circle cx="506.4" cy="488.3" r="6.8" fill="url(#gH)"/>
<circle cx="489.8" cy="447.0" r="6.8" fill="url(#gN)"/>
<circle cx="511.6" cy="450.3" r="6.8" fill="url(#gN)"/>
</g>
</svg>
</body></html>
